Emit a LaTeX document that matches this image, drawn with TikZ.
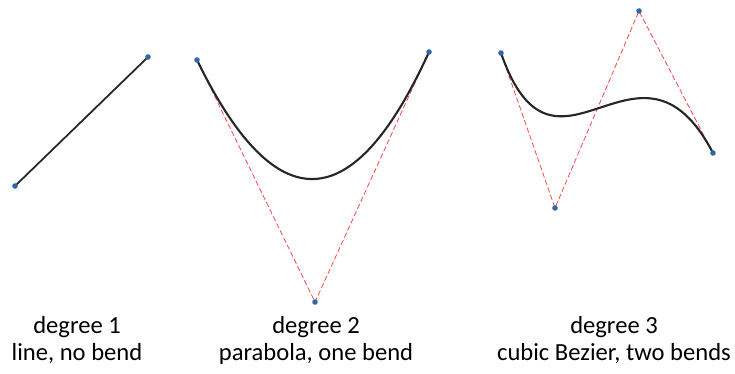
\documentclass[tikz,border=0pt]{standalone}
\usepackage{fontspec}
\setmainfont{Carlito}
\usetikzlibrary{calc}

\begin{document}
\begin{tikzpicture}[x=0.02cm, y=-0.02cm, thick]
  \tikzset{
    ctrl/.style={red!80!white, dashed, thin, dash pattern=on 3pt off 1.5pt},
    curve/.style={black!85, line width=1.2pt},
    pt/.style={fill={rgb,255:red,46;green,104;blue,170}},
    caption/.style={align=center, font=\fontsize{14}{15.3}\selectfont}
  }
  \useasboundingbox (0,0) rectangle (735,373);

  % degree 1
  \coordinate (A0) at (15,186);
  \coordinate (A1) at (148,57);
  \draw[curve, line width=1pt] (A0) -- (A1);
  \foreach \p in {A0,A1} \fill[pt] (\p) circle (2.8);

  % degree 2
  \coordinate (B0) at (197,60);
  \coordinate (B1) at (315,302);
  \coordinate (B2) at (429,52);
  \draw[ctrl] (B0) -- (B1) -- (B2);
  \draw[curve] (B0) .. controls ($(B0)!2/3!(B1)$) and ($(B2)!2/3!(B1)$) .. (B2);
  \foreach \p in {B0,B1,B2} \fill[pt] (\p) circle (2.8);

  % degree 3
  \coordinate (C0) at (501,53);
  \coordinate (C1) at (555,208);
  \coordinate (C2) at (639,11);
  \coordinate (C3) at (713,153);
  \draw[ctrl] (C0) -- (C1) -- (C2) -- (C3);
  \draw[curve] (C0) .. controls (C1) and (C2) .. (C3);
  \foreach \p in {C0,C1,C2,C3} \fill[pt] (\p) circle (2.8);

  \node[caption] (L1) at (77,340)  {degree 1\\line, no bend};
  \node[caption] (L2) at (316,340) {degree 2\\parabola, one bend};
  \node[caption] (L3) at (614,340) {degree 3\\cubic Bezier, two bends};
\end{tikzpicture}
\end{document}
